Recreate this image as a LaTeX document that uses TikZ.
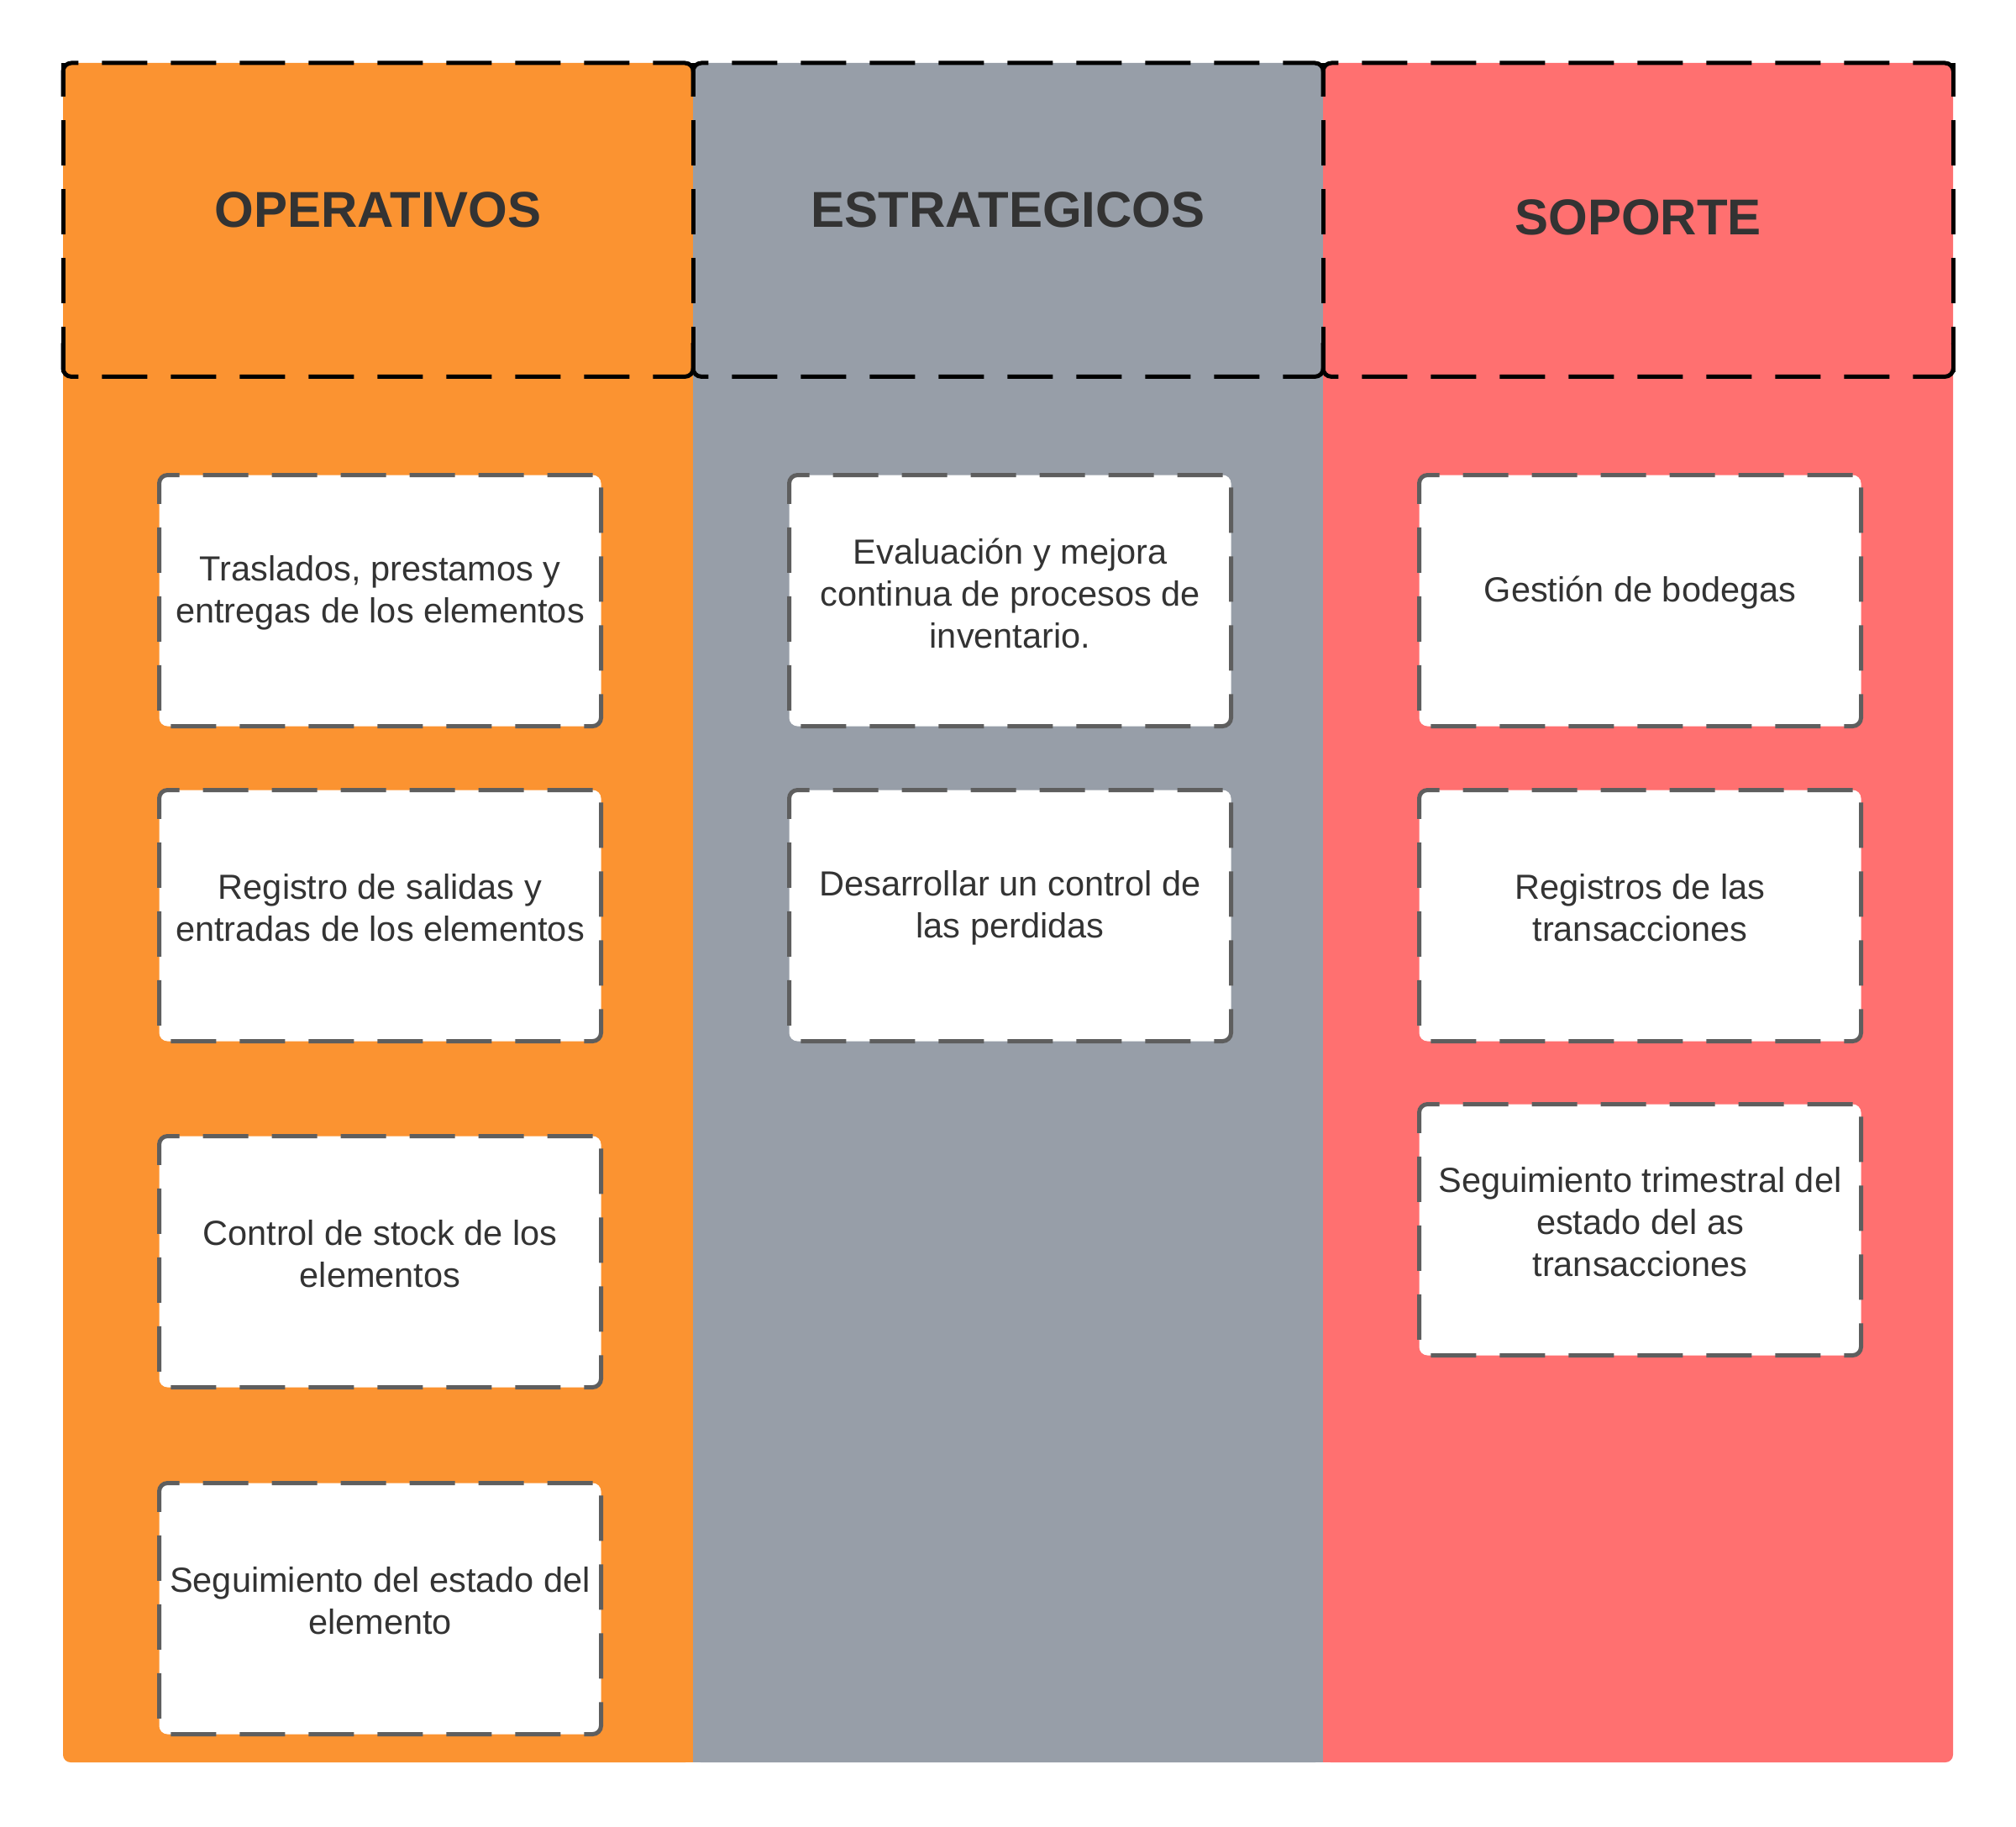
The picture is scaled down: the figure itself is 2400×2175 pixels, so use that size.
\documentclass[tikz,border=0pt]{standalone}
\usepackage{fontspec}
\setmainfont{Liberation Sans}
\definecolor{colorange}{HTML}{FB9331}
\definecolor{colgray}{HTML}{979EA8}
\definecolor{colred}{HTML}{FF7070}
\definecolor{txtdark}{HTML}{333333}
\definecolor{boxline}{HTML}{5E5E5E}
\tikzset{
  colfill/.style={rounded corners=9pt},
  headbox/.style={minimum width=750pt, minimum height=373pt, inner sep=0pt, anchor=north west},
  headline/.style={draw=black, line width=5pt, dash pattern=on 54pt off 28pt, rounded corners=10pt},
  headvert/.style={draw=black, line width=5pt, dash pattern=on 54pt off 28pt, dash phase=14pt},
  headtext/.style={text=txtdark, font=\bfseries\fontsize{60}{70}\selectfont},
  itembox/.style={draw=boxline, fill=white, line width=5pt, dash pattern=on 54pt off 28pt, rounded corners=10pt,
    minimum width=526pt, minimum height=299pt, inner sep=0pt, anchor=north west},
  itemtext/.style={align=center, text=txtdark, font=\fontsize{41.5}{50}\selectfont, inner sep=0pt}
}
\begin{document}
\begin{tikzpicture}[x=1pt,y=-1pt]
\useasboundingbox (0,0) rectangle (2400,2175);
\fill[white] (0,0) rectangle (2400,2175);
% columns
\fill[colorange, colfill] (75,75) rectangle (825,2098);
\fill[colgray, colfill] (825,75) rectangle (1575,2098);
\fill[colred, colfill] (1575,75) rectangle (2325,2098);
\fill[colorange] (815,75) rectangle (825,2098);
\fill[colgray] (825,75) rectangle (835,2098);
\fill[colgray] (1565,75) rectangle (1575,2098);
\fill[colred] (1575,75) rectangle (1585,2098);
% headers
\node[headbox] (h1) at (75,75) {};
\node[headbox] (h2) at (825,75) {};
\node[headbox] (h3) at (1575,75) {};
\foreach \h in {h1,h2,h3}{
  \draw[headline] ([yshift=-40pt]\h.north west) -- (\h.north west) -- (\h.north east) -- ([yshift=-40pt]\h.north east);
  \draw[headline] ([yshift=40pt]\h.south west) -- (\h.south west) -- (\h.south east) -- ([yshift=40pt]\h.south east);
  \draw[headvert] (\h.north west) -- (\h.south west);
  \draw[headvert] (\h.north east) -- (\h.south east);
}
\node[headtext] (t1) at (450,250) {OPERATIVOS};
\node[headtext] (t2) at (1200,250) {ESTRATEGICOS};
\node[headtext] (t3) at (1950,259) {SOPORTE};
% operativos
\node[itembox] (o1) at (187,563) {};
\node[itembox] (o2) at (187,938) {};
\node[itembox] (o3) at (187,1350) {};
\node[itembox] (o4) at (187,1763) {};
% estrategicos
\node[itembox] (e1) at (937,563) {};
\node[itembox] (e2) at (937,938) {};
% soporte
\node[itembox] (s1) at (1687,563) {};
\node[itembox] (s2) at (1687,938) {};
\node[itembox] (s3) at (1687,1312) {};
% texts
\node[itemtext] (o1t) at ([yshift=9pt]o1.center) {Traslados, prestamos y\\entregas de los elementos};
\node[itemtext] (o2t) at ([yshift=9pt]o2.center) {Registro de salidas y\\entradas de los elementos};
\node[itemtext] (o3t) at ([yshift=9pt]o3.center) {Control de stock de los\\elementos};
\node[itemtext] (o4t) at ([yshift=9pt]o4.center) {Seguimiento del estado del\\elemento};
\node[itemtext] (e1t) at ([yshift=9pt]e1.center) {Evaluación y mejora\\continua de procesos de\\inventario.};
\node[itemtext] (e2t) at ([yshift=9pt]e2.center) {Desarrollar un control de\\las perdidas};
\node[itemtext] (s1t) at ([yshift=9pt]s1.center) {Gestión de bodegas};
\node[itemtext] (s2t) at ([yshift=9pt]s2.center) {Registros de las\\transacciones};
\node[itemtext] (s3t) at ([yshift=9pt]s3.center) {Seguimiento trimestral del\\estado del as\\transacciones};
\end{tikzpicture}
\end{document}
